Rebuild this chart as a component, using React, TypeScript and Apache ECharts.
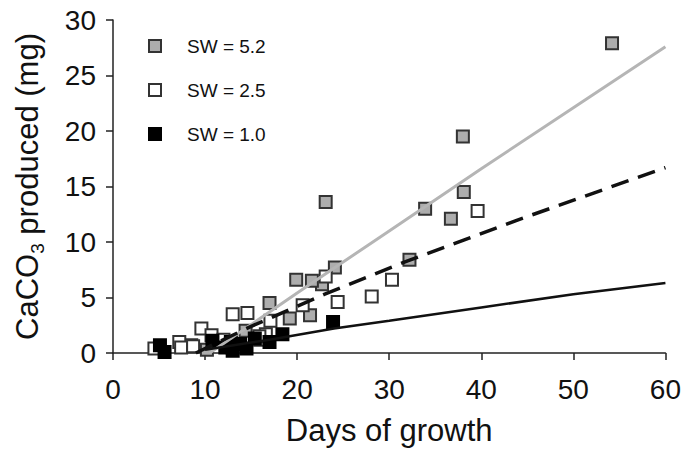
import React, { useEffect, useRef } from "react";
import * as echarts from "echarts";

const xTicks = [0, 10, 20, 30, 40, 50, 60];
const yTicks = [0, 5, 10, 15, 20, 25, 30];

const seriesNames = ["SW = 5.2", "SW = 2.5", "SW = 1.0"];

const sw52Points: [number, number][] = [
  [54.2, 27.9], [38.0, 19.5], [38.1, 14.5], [33.9, 13.0], [36.7, 12.1],
  [23.1, 13.6], [32.2, 8.4], [24.1, 7.7], [22.7, 6.2], [21.6, 6.5],
  [19.9, 6.6], [17.0, 4.5], [19.2, 3.1], [21.4, 3.4], [14.4, 2.0],
  [8.5, 0.7], [10.2, 0.3], [13.0, 0.5], [16.0, 1.2],
];

const sw25Points: [number, number][] = [
  [39.6, 12.8], [30.3, 6.6], [28.1, 5.1], [23.1, 6.9], [24.4, 4.6],
  [20.6, 4.3], [17.1, 2.9], [13.0, 3.5], [14.6, 3.6], [9.6, 2.2],
  [10.7, 1.6], [16.6, 1.7], [7.2, 1.0], [7.4, 0.5], [4.5, 0.4],
  [8.7, 0.6], [15.9, 1.5], [12.0, 1.2],
];

const sw10Points: [number, number][] = [
  [23.9, 2.8], [18.4, 1.7], [17.0, 1.0], [15.4, 1.3], [5.1, 0.7],
  [5.6, 0.1], [12.2, 0.5], [13.0, 0.2], [13.8, 0.8], [14.5, 0.4],
  [12.8, 1.0], [10.8, 1.1],
];

const sw52Fit: [number, number][] = [
  [10.5, 0], [20, 5.4], [30, 11.0], [40, 16.6], [50, 22.1], [60, 27.6],
];
const sw25Fit: [number, number][] = [
  [9, 0], [15, 2.4], [23, 5.3], [32, 8.3], [44, 12.0], [60, 16.7],
];
const sw10Fit: [number, number][] = [
  [10, 0.3], [17, 1.2], [24, 2.2], [30, 2.9], [40, 4.1], [50, 5.3], [60, 6.3],
];

const FONT = "Liberation Sans, Arial, sans-serif";

export default function App() {
  const ref = useRef<HTMLDivElement>(null);

  useEffect(() => {
    if (!ref.current) return;
    const chart = echarts.init(ref.current, null, { renderer: "svg" });
    const axisLine = { show: true, lineStyle: { color: "#222", width: 1.5 } };
    const axisTick = { show: true, inside: false, length: 7, lineStyle: { color: "#222", width: 1.5 } };
    const markerBorder = { borderColor: "#333", borderWidth: 2, opacity: 1 };
    chart.setOption({
      animation: false,
      backgroundColor: "#fff",
      grid: { left: 113, right: 16, top: 20, bottom: 97 },
      legend: {
        orient: "vertical",
        left: 143,
        top: 31,
        itemWidth: 12,
        itemHeight: 12,
        itemGap: 24,
        icon: "rect",
        data: seriesNames,
        textStyle: {
          fontFamily: FONT,
          fontSize: 19,
          color: "#111",
          lineHeight: 20,
          padding: [0, 0, 0, 21],
        },
      },
      xAxis: {
        type: "value",
        min: xTicks[0],
        max: xTicks[xTicks.length - 1],
        interval: 10,
        name: "Days of growth",
        nameLocation: "middle",
        nameGap: 62,
        nameTextStyle: { fontFamily: FONT, fontSize: 31, color: "#111" },
        axisLine,
        axisTick,
        splitLine: { show: false },
        axisLabel: { fontFamily: FONT, fontSize: 28, color: "#111", margin: 22 },
      },
      yAxis: {
        type: "value",
        min: yTicks[0],
        max: yTicks[yTicks.length - 1],
        interval: 5,
        name: "{a|CaCO}{s|3}{a| produced (mg)}",
        nameLocation: "middle",
        nameGap: 66,
        nameTextStyle: {
          fontFamily: FONT,
          color: "#111",
          rich: {
            a: { fontFamily: FONT, fontSize: 31, color: "#111", lineHeight: 40, verticalAlign: "middle" },
            s: { fontFamily: FONT, fontSize: 19, color: "#111", lineHeight: 40, verticalAlign: "bottom" },
          },
        },
        axisLine,
        axisTick,
        splitLine: { show: false },
        axisLabel: { fontFamily: FONT, fontSize: 28, color: "#111", margin: 17 },
      },
      series: [
        {
          name: seriesNames[0],
          type: "scatter",
          symbol: "rect",
          symbolSize: 12,
          data: sw52Points,
          itemStyle: { color: "#adadad", ...markerBorder },
          z: 2,
        },
        {
          name: seriesNames[1],
          type: "scatter",
          symbol: "rect",
          symbolSize: 12,
          data: sw25Points,
          itemStyle: { color: "#ffffff", ...markerBorder },
          z: 3,
        },
        {
          name: seriesNames[2],
          type: "scatter",
          symbol: "rect",
          symbolSize: 12,
          data: sw10Points,
          itemStyle: { color: "#000000", borderColor: "#000", borderWidth: 2, opacity: 1 },
          z: 4,
        },
        {
          name: "fit52",
          type: "line",
          data: sw52Fit,
          showSymbol: false,
          symbol: "none",
          lineStyle: { color: "#b5b5b5", width: 3 },
          z: 5,
        },
        {
          name: "fit25",
          type: "line",
          data: sw25Fit,
          showSymbol: false,
          symbol: "none",
          lineStyle: { color: "#111", width: 3.5, type: [18, 10] },
          z: 5,
        },
        {
          name: "fit10",
          type: "line",
          data: sw10Fit,
          showSymbol: false,
          symbol: "none",
          lineStyle: { color: "#111", width: 2.5 },
          z: 5,
        },
      ],
    });
    return () => chart.dispose();
  }, []);

  return (
    <div
      ref={ref}
      style={{ position: "fixed", left: 0, top: 0, width: 684, height: 451, background: "#fff" }}
    />
  );
}
